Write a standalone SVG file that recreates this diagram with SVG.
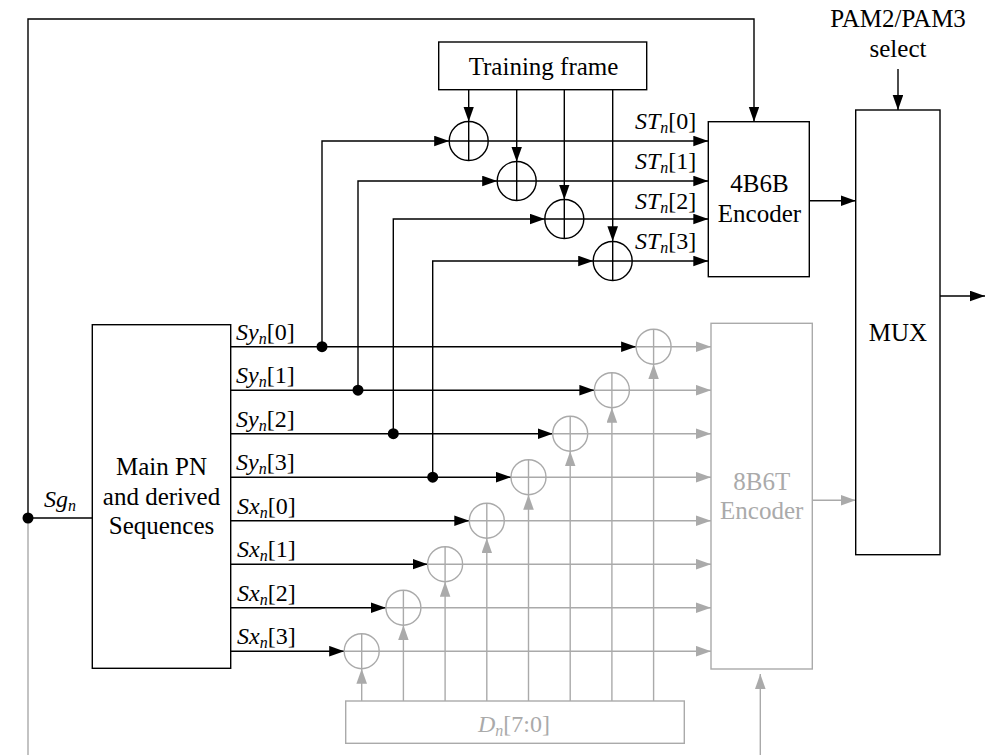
<svg xmlns="http://www.w3.org/2000/svg" width="986" height="755" viewBox="0 0 986 755">
<defs>
<marker id="ab" markerUnits="userSpaceOnUse" markerWidth="16" markerHeight="12" refX="15" refY="5.3" orient="auto"><path d="M0,0 L15,5.3 L0,10.6 z" fill="#000" stroke="none"/></marker>
<marker id="ag" markerUnits="userSpaceOnUse" markerWidth="16" markerHeight="12" refX="15" refY="5.3" orient="auto"><path d="M0,0 L15,5.3 L0,10.6 z" fill="#aaaaaa" stroke="none"/></marker>
</defs>

<g id="connectors" fill="none" stroke-width="1.4">
<g stroke="#000">
<path d="M28,518 H92.3"/>
</g>
<g stroke="#aaaaaa">
<path d="M28,518 V755"/>
</g>
<g stroke="#000" marker-end="url(#ab)">
<path d="M28,518 V19 H754 V121.7"/>
<path d="M468.7,89.7 V121.5"/>
<path d="M516.7,89.7 V161.7"/>
<path d="M564.3,89.7 V199.5"/>
<path d="M612.7,89.7 V241.2"/>
<path d="M322,346.7 V141 H449.2"/>
<path d="M358,390.2 V181 H497.2"/>
<path d="M393.3,433.7 V219 H544.8"/>
<path d="M432.7,477.2 V261 H593.2"/>
<path d="M488.2,141 H708.3"/>
<path d="M536.2,181 H708.3"/>
<path d="M583.8,219 H708.3"/>
<path d="M632.2,261 H708.3"/>
<path d="M230.7,346.7 H636.1"/>
<path d="M230.7,390.2 H594.4"/>
<path d="M230.7,433.7 H552.7"/>
<path d="M230.7,477.2 H511"/>
<path d="M230.7,520.7 H469.3"/>
<path d="M230.7,564.2 H427.6"/>
<path d="M230.7,607.7 H385.9"/>
<path d="M230.7,651.2 H344.2"/>
<path d="M809.3,200.7 H855.7"/>
<path d="M898,69 V110"/>
<path d="M940,296 H985"/>
</g>
<g stroke="#aaaaaa" marker-end="url(#ag)">
<path d="M671.1,346.7 H711"/>
<path d="M629.4,390.2 H711"/>
<path d="M587.7,433.7 H711"/>
<path d="M546,477.2 H711"/>
<path d="M504.3,520.7 H711"/>
<path d="M462.6,564.2 H711"/>
<path d="M420.9,607.7 H711"/>
<path d="M379.2,651.2 H711"/>
<path d="M361.7,701 V668.7"/>
<path d="M403.4,701 V625.2"/>
<path d="M445.1,701 V581.7"/>
<path d="M486.8,701 V538.2"/>
<path d="M528.5,701 V494.7"/>
<path d="M570.2,701 V451.2"/>
<path d="M611.9,701 V407.7"/>
<path d="M653.6,701 V364.2"/>
<path d="M812.3,500.3 H855.7"/>
<path d="M760.3,755 V674"/>
</g>
<g fill="#000" stroke="none">
<circle cx="28" cy="518" r="5.5"/>
<circle cx="322" cy="346.7" r="5.5"/>
<circle cx="358" cy="390.2" r="5.5"/>
<circle cx="393.3" cy="433.7" r="5.5"/>
<circle cx="432.7" cy="477.2" r="5.5"/>
</g>
</g>

<g id="training-frame">
<rect x="438.7" y="42" width="208" height="47.7" fill="#fff" stroke="#000" stroke-width="1.4"/>
<text font-family="Times New Roman" font-size="25" fill="#000" x="543.5" y="75" text-anchor="middle">Training frame</text>
</g>

<g id="xor-st" fill="none" stroke="#000" stroke-width="1.4">
<g id="xor-st0"><circle cx="468.7" cy="141" r="19.5"/><path d="M449.2,141 H488.2 M468.7,121.5 V160.5"/></g>
<g id="xor-st1"><circle cx="516.7" cy="181" r="19.5"/><path d="M497.2,181 H536.2 M516.7,161.5 V200.5"/></g>
<g id="xor-st2"><circle cx="564.3" cy="219" r="19.5"/><path d="M544.8,219 H583.8 M564.3,199.5 V238.5"/></g>
<g id="xor-st3"><circle cx="612.7" cy="261" r="19.5"/><path d="M593.2,261 H632.2 M612.7,241.5 V280.5"/></g>
</g>

<g id="st-labels">
<text font-family="Times New Roman" font-size="24" x="635" y="128.5"><tspan font-style="italic">ST</tspan><tspan font-style="italic" font-size="16" dy="4">n</tspan><tspan dy="-4">[0]</tspan></text>
<text font-family="Times New Roman" font-size="24" x="635" y="168.5"><tspan font-style="italic">ST</tspan><tspan font-style="italic" font-size="16" dy="4">n</tspan><tspan dy="-4">[1]</tspan></text>
<text font-family="Times New Roman" font-size="24" x="635" y="208.5"><tspan font-style="italic">ST</tspan><tspan font-style="italic" font-size="16" dy="4">n</tspan><tspan dy="-4">[2]</tspan></text>
<text font-family="Times New Roman" font-size="24" x="635" y="249"><tspan font-style="italic">ST</tspan><tspan font-style="italic" font-size="16" dy="4">n</tspan><tspan dy="-4">[3]</tspan></text>
</g>

<g id="enc-4b6b">
<rect x="708.3" y="121.7" width="101" height="155" fill="#fff" stroke="#000" stroke-width="1.4"/>
<text font-family="Times New Roman" font-size="25" x="759.5" y="192" text-anchor="middle">4B6B</text>
<text font-family="Times New Roman" font-size="25" x="759.5" y="222" text-anchor="middle">Encoder</text>
</g>

<g id="mux">
<rect x="855.7" y="110" width="84.3" height="444.7" fill="#fff" stroke="#000" stroke-width="1.4"/>
<text font-family="Times New Roman" font-size="25" x="898" y="340.5" text-anchor="middle">MUX</text>
</g>

<g id="pam-select">
<text font-family="Times New Roman" font-size="25" x="898" y="27" text-anchor="middle">PAM2/PAM3</text>
<text font-family="Times New Roman" font-size="25" x="898" y="57" text-anchor="middle">select</text>
</g>

<g id="main-pn">
<rect x="92.3" y="324.7" width="138.4" height="343.6" fill="#fff" stroke="#000" stroke-width="1.4"/>
<text font-family="Times New Roman" font-size="25" x="161.5" y="475" text-anchor="middle">Main PN</text>
<text font-family="Times New Roman" font-size="25" x="161.5" y="504.5" text-anchor="middle">and derived</text>
<text font-family="Times New Roman" font-size="25" x="161.5" y="534" text-anchor="middle">Sequences</text>
</g>

<g id="sg-label">
<text font-family="Times New Roman" font-size="24" x="44" y="507"><tspan font-style="italic">Sg</tspan><tspan font-style="italic" font-size="16" dy="4">n</tspan></text>
</g>

<g id="seq-labels">
<text font-family="Times New Roman" font-size="24" x="236" y="339.5"><tspan font-style="italic">Sy</tspan><tspan font-style="italic" font-size="16" dy="4">n</tspan><tspan dy="-4">[0]</tspan></text>
<text font-family="Times New Roman" font-size="24" x="236" y="383"><tspan font-style="italic">Sy</tspan><tspan font-style="italic" font-size="16" dy="4">n</tspan><tspan dy="-4">[1]</tspan></text>
<text font-family="Times New Roman" font-size="24" x="236" y="426.5"><tspan font-style="italic">Sy</tspan><tspan font-style="italic" font-size="16" dy="4">n</tspan><tspan dy="-4">[2]</tspan></text>
<text font-family="Times New Roman" font-size="24" x="236" y="470"><tspan font-style="italic">Sy</tspan><tspan font-style="italic" font-size="16" dy="4">n</tspan><tspan dy="-4">[3]</tspan></text>
<text font-family="Times New Roman" font-size="24" x="237" y="513.5"><tspan font-style="italic">Sx</tspan><tspan font-style="italic" font-size="16" dy="4">n</tspan><tspan dy="-4">[0]</tspan></text>
<text font-family="Times New Roman" font-size="24" x="237" y="557"><tspan font-style="italic">Sx</tspan><tspan font-style="italic" font-size="16" dy="4">n</tspan><tspan dy="-4">[1]</tspan></text>
<text font-family="Times New Roman" font-size="24" x="237" y="600.5"><tspan font-style="italic">Sx</tspan><tspan font-style="italic" font-size="16" dy="4">n</tspan><tspan dy="-4">[2]</tspan></text>
<text font-family="Times New Roman" font-size="24" x="237" y="644"><tspan font-style="italic">Sx</tspan><tspan font-style="italic" font-size="16" dy="4">n</tspan><tspan dy="-4">[3]</tspan></text>
</g>

<g id="xor-gray" fill="none" stroke="#aaaaaa" stroke-width="1.4">
<g id="xor-g0"><circle cx="361.7" cy="651.2" r="17.5"/><path d="M344.2,651.2 H379.2 M361.7,633.7 V668.7"/></g>
<g id="xor-g1"><circle cx="403.4" cy="607.7" r="17.5"/><path d="M385.9,607.7 H420.9 M403.4,590.2 V625.2"/></g>
<g id="xor-g2"><circle cx="445.1" cy="564.2" r="17.5"/><path d="M427.6,564.2 H462.6 M445.1,546.7 V581.7"/></g>
<g id="xor-g3"><circle cx="486.8" cy="520.7" r="17.5"/><path d="M469.3,520.7 H504.3 M486.8,503.2 V538.2"/></g>
<g id="xor-g4"><circle cx="528.5" cy="477.2" r="17.5"/><path d="M511,477.2 H546 M528.5,459.7 V494.7"/></g>
<g id="xor-g5"><circle cx="570.2" cy="433.7" r="17.5"/><path d="M552.7,433.7 H587.7 M570.2,416.2 V451.2"/></g>
<g id="xor-g6"><circle cx="611.9" cy="390.2" r="17.5"/><path d="M594.4,390.2 H629.4 M611.9,372.7 V407.7"/></g>
<g id="xor-g7"><circle cx="653.6" cy="346.7" r="17.5"/><path d="M636.1,346.7 H671.1 M653.6,329.2 V364.2"/></g>
</g>

<g id="data-in">
<rect x="345.7" y="701" width="338.6" height="42.3" fill="none" stroke="#aaaaaa" stroke-width="1.4"/>
<text font-family="Times New Roman" font-size="24" fill="#aaaaaa" x="478" y="731.5"><tspan font-style="italic">D</tspan><tspan font-style="italic" font-size="16" dy="4">n</tspan><tspan dy="-4">[7:0]</tspan></text>
</g>

<g id="enc-8b6t">
<rect x="711" y="323.3" width="101.3" height="345.7" fill="none" stroke="#aaaaaa" stroke-width="1.4"/>
<text font-family="Times New Roman" font-size="25" fill="#aaaaaa" x="761.7" y="489.5" text-anchor="middle">8B6T</text>
<text font-family="Times New Roman" font-size="25" fill="#aaaaaa" x="761.7" y="519" text-anchor="middle">Encoder</text>
</g>
</svg>
